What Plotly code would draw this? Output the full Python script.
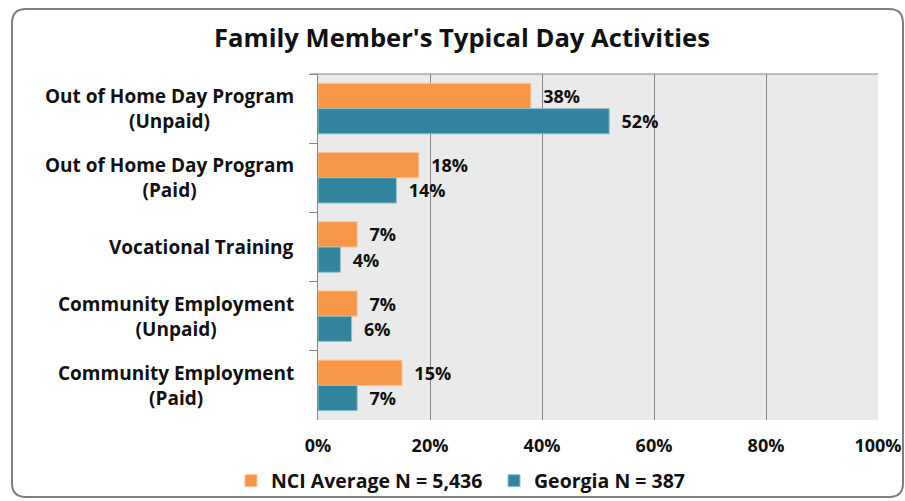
import plotly.graph_objects as go

categories = ["Out of Home Day Program<br>(Unpaid)", "Out of Home Day Program<br>(Paid)",
              "Vocational Training", "Community Employment<br>(Unpaid)", "Community Employment<br>(Paid)"]
nci_values = [38, 18, 7, 7, 15]
georgia_values = [52, 14, 4, 6, 7]
series_names = ["NCI Average N = 5,436", "Georgia N = 387"]
tick_vals = [0, 20, 40, 60, 80, 100]
tick_text = ["0%", "20%", "40%", "60%", "80%", "100%"]

OFF = 0  # body margin removed by post_script
W, H = 905 - OFF, 501 - OFF
L, R, T, B = 318 - OFF, 905 - 878, 74 - OFF, 501 - 420
PW, PH = W - L - R, H - T - B
FONT = "Open Sans"
TXT = "#111111"
GRID = "#868686"


def px(x):  # screenshot x -> paper
    return (x - OFF - L) / PW


def py(y):  # screenshot y -> paper
    return 1 - (y - OFF - T) / PH


fig = go.Figure()
fig.add_trace(go.Bar(y=categories, x=nci_values, orientation="h", name="<b>%s</b>" % series_names[0],
                     marker=dict(color="#F79646", line=dict(color="#FBC49A", width=1)),
                     text=["  <b>%d%%</b>" % v for v in nci_values], textposition="outside",
                     textfont=dict(family=FONT, size=18, color=TXT), cliponaxis=False))
fig.add_trace(go.Bar(y=categories, x=georgia_values, orientation="h", name="<b>%s</b>" % series_names[1],
                     marker=dict(color="#31849B", line=dict(color="#8CC4D4", width=1)),
                     text=["  <b>%d%%</b>" % v for v in georgia_values], textposition="outside",
                     textfont=dict(family=FONT, size=18, color=TXT), cliponaxis=False))

for c in categories:
    fig.add_annotation(text="<b>%s</b>" % c, x=px(296), xref="paper", y=c, yref="y",
                       xanchor="right", yanchor="middle", align="center", showarrow=False,
                       font=dict(family=FONT, size=19, color=TXT))

# rounded outer border
x0, x1, y0, y1, r = px(12), px(903), py(9), py(497), 14
rx, ry = r / PW, r / PH
path = (f"M {x0+rx},{y0} L {x1-rx},{y0} Q {x1},{y0} {x1},{y0-ry} L {x1},{y1+ry} Q {x1},{y1} {x1-rx},{y1} "
        f"L {x0+rx},{y1} Q {x0},{y1} {x0},{y1+ry} L {x0},{y0-ry} Q {x0},{y0} {x0+rx},{y0} Z")
fig.add_shape(type="path", path=path, xref="paper", yref="paper",
              line=dict(color="#7F7F7F", width=2), layer="below")
fig.add_shape(type="line", x0=px(310), x1=1, y0=1, y1=1, xref="paper", yref="paper",
              line=dict(color=GRID, width=1))

fig.update_layout(
    width=W, height=H, margin=dict(l=L, r=R, t=T, b=B, autoexpand=False),
    paper_bgcolor="white", plot_bgcolor="#EAEAEA",
    title=dict(text="<b>Family Member's Typical Day Activities</b>", x=(462 - OFF) / W, xref="container",
               xanchor="center", y=1 - (38 - OFF) / H, yref="container", yanchor="middle",
               font=dict(family=FONT, size=25.6, color=TXT)),
    barmode="group", bargap=0.27, bargroupgap=0,
    showlegend=True,
    legend=dict(orientation="h", x=px(231), xanchor="left", y=py(481), yanchor="middle",
                font=dict(family=FONT, size=19.5, color=TXT), traceorder="normal",
                itemwidth=30, entrywidth=218, entrywidthmode="pixels", bgcolor="rgba(0,0,0,0)"),
    xaxis=dict(range=[0, 100], tickvals=tick_vals, ticktext=["<b>%s</b>" % t for t in tick_text],
               showgrid=True, gridcolor=GRID, gridwidth=1, zeroline=False,
               tickfont=dict(family=FONT, size=18, color=TXT), ticks="outside", ticklen=9,
               tickcolor="rgba(0,0,0,0)", fixedrange=True),
    xaxis2=dict(range=[0, 100], overlaying="x", side="top", tickvals=tick_vals, showticklabels=False,
                ticks="outside", ticklen=6, tickcolor=GRID, showgrid=False, zeroline=False),
    yaxis=dict(autorange="reversed", showticklabels=False, tickson="boundaries", ticks="outside",
               ticklen=8, tickcolor=GRID, showline=True, linecolor=GRID, linewidth=1,
               showgrid=False, zeroline=False),
)
fig.write_html("out.html", config={"displayModeBar": False},
               post_script="document.body.style.margin='0';document.body.style.overflow='hidden';")
